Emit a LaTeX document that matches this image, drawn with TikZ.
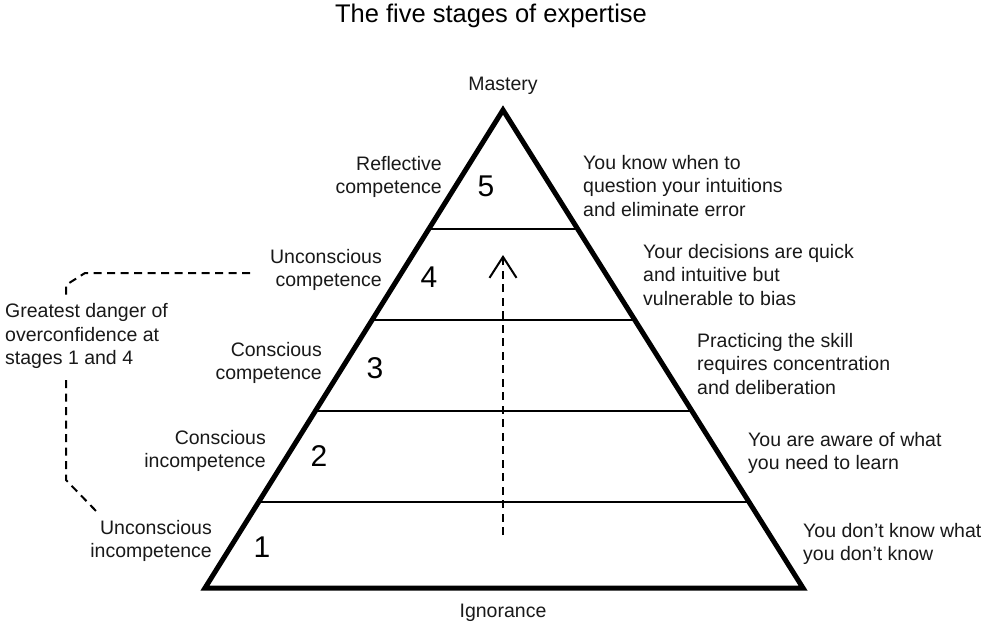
\documentclass[tikz,border=0pt]{standalone}
\usepackage{fontspec}
\setmainfont{Liberation Sans}
\usetikzlibrary{arrows.meta,calc}
\begin{document}
\begin{tikzpicture}[x=1pt,y=-1pt,
  lbl/.style={inner sep=0pt, font=\fontsize{19.5}{23.5}\selectfont, text=black!90},
  lleft/.style={lbl, align=right, anchor=east},
  lright/.style={lbl, align=left, anchor=west},
  num/.style={inner sep=0pt, font=\fontsize{30}{30}\selectfont},
  tier/.style={line width=2pt},
  outline/.style={line width=5pt, line join=miter},
  dsh/.style={line width=2pt, dash pattern=on 8pt off 5.5pt}]
\useasboundingbox (0,0) rectangle (984,631);
\fill[white] (0,0) rectangle (984,631);

\node[inner sep=0pt, font=\fontsize{25.5}{28}\selectfont] (title) at (491,16) {The five stages of expertise};

\coordinate (A) at (503,110);
\coordinate (L) at (205,588);
\coordinate (R) at (803,588);

\foreach \t/\n in {0.1799/1,0.3703/2,0.5607/3,0.7510/4}{
  \coordinate (l\n) at ($(L)!\t!(A)$);
  \coordinate (r\n) at ($(R)!\t!(A)$);
  \draw[tier] (l\n) -- (r\n);
}
\draw[outline] (A) -- (L) -- (R) -- cycle;

\node[lbl] (mastery) at (503,86) {Mastery};
\node[lbl] (ignorance) at (503,613) {Ignorance};

\node[num] (n1) at (262,547) {1};
\node[num] (n2) at (319,456) {2};
\node[num] (n3) at (375,368) {3};
\node[num] (n4) at (429,277) {4};
\node[num] (n5) at (486,186) {5};

\node[lleft] (s5) at (442,177) {Reflective\\competence};
\node[lleft] (s4) at (382,270) {Unconscious\\competence};
\node[lleft] (s3) at (322,363) {Conscious\\competence};
\node[lleft] (s2) at (266,451) {Conscious\\incompetence};
\node[lleft] (s1) at (212,541) {Unconscious\\incompetence};

\node[lright] (d5) at (583,186) {You know when to\\question your intuitions\\and eliminate error};
\node[lright] (d4) at (643,275) {Your decisions are quick\\and intuitive but\\vulnerable to bias};
\node[lright] (d3) at (697,364) {Practicing the skill\\requires concentration\\and deliberation};
\node[lright] (d2) at (748,453) {You are aware of what\\you need to learn};
\node[lright] (d1) at (803,544) {You don’t know what\\you don’t know};

\coordinate (as) at (503,535);
\coordinate (ae) at (503,255);
\draw[dsh, -{Straight Barb[length=21pt, width=27pt, line width=2pt]}] (as) -- (ae);

\node[lbl, align=left, anchor=west] (danger) at (5,336) {Greatest danger of\\overconfidence at\\stages 1 and 4};
\coordinate (b1) at (250,273);
\coordinate (b2) at (85,273);
\coordinate (b3) at (66,285);
\coordinate (b4) at (66,297);
\coordinate (c1) at (66,380);
\coordinate (c2) at (66,480);
\coordinate (c3) at (97,512);
\draw[dsh] (b1) -- (b2) -- (b3) -- (b4);
\draw[dsh] (c1) -- (c2) -- (c3);
\end{tikzpicture}
\end{document}
